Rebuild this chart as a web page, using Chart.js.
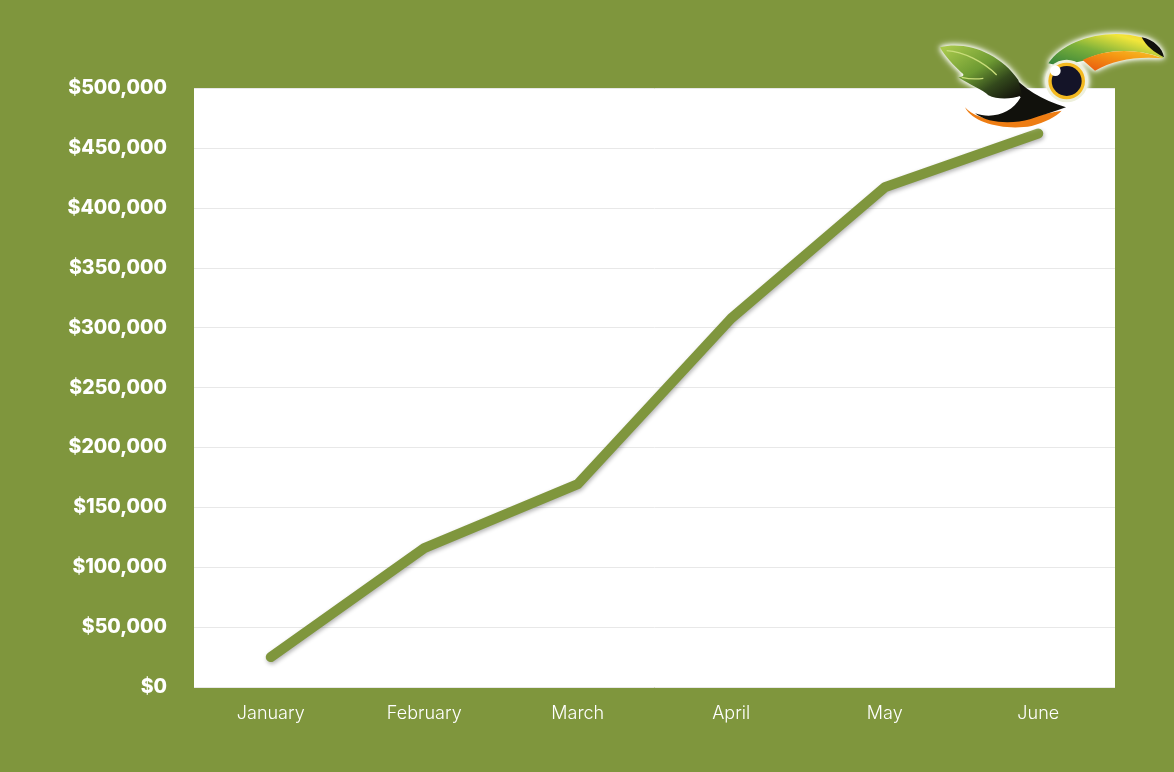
<!DOCTYPE html>
<html>
<head>
<meta charset="utf-8">
<title>Revenue by month</title>
<script src="https://cdn.jsdelivr.net/npm/chart.js@4/dist/chart.umd.min.js"></script>
<style>
  html, body { margin: 0; padding: 0; background: #7f963d; }
  #wrap { position: relative; width: 1174px; height: 772px; overflow: hidden; }
  #toucan { position: absolute; left: 920px; top: 20px; width: 254px; height: 130px; filter: drop-shadow(0 0 2px #fff) drop-shadow(0 0 3px #fff); }
</style>
</head>
<body>
<div id="wrap">
  <canvas id="chart" width="1174" height="772"></canvas>
  <!-- logo -->
  <svg id="toucan" viewBox="0 0 762 390" aria-hidden="true">
    <defs>
      <linearGradient id="leaf" x1="0.05" y1="0.05" x2="0.95" y2="0.95">
        <stop offset="0" stop-color="#a8c84c"/>
        <stop offset="0.45" stop-color="#6d9a32"/>
        <stop offset="0.72" stop-color="#33491c"/>
        <stop offset="1" stop-color="#14140c"/>
      </linearGradient>
      <linearGradient id="beak" x1="0" y1="1" x2="1" y2="0">
        <stop offset="0" stop-color="#2f7f3a"/>
        <stop offset="0.45" stop-color="#7fb23a"/>
        <stop offset="0.78" stop-color="#f2e63a"/>
        <stop offset="1" stop-color="#f4c52e"/>
      </linearGradient>
      <linearGradient id="bill" x1="0" y1="1" x2="1" y2="0">
        <stop offset="0" stop-color="#e8560f"/>
        <stop offset="0.6" stop-color="#f59a14"/>
        <stop offset="1" stop-color="#f7c52a"/>
      </linearGradient>
    </defs>
    <path d="M135,262 C160,312 260,332 335,318 C375,306 405,292 425,272 C370,282 300,300 240,300 C195,300 155,285 135,262Z" fill="#ee7d13"/>
    <path d="M270,160 C310,205 365,240 438,262 C400,276 365,285 330,298 C280,312 205,312 165,280 C215,298 275,282 302,232 C285,215 265,190 270,160Z" fill="#11110c"/>
    <path d="M60,82 C140,62 240,100 295,180 L306,226 C270,240 230,238 205,226 C190,210 150,195 115,172 C130,170 135,165 125,158 C100,135 75,110 60,82Z" fill="url(#leaf)"/>
    <path d="M80,92 C130,95 190,125 230,165" fill="none" stroke="#c9dd7a" stroke-width="4"/>
    <path d="M125,172 C150,178 170,178 190,175" fill="none" stroke="#c9dd7a" stroke-width="4"/>
    <path d="M385,130 C430,60 560,22 665,52 C700,68 725,95 730,115 C650,85 560,85 490,122 L420,138Z" fill="url(#beak)"/>
    <path d="M488,120 C570,82 660,88 728,115 C650,108 580,120 525,152Z" fill="url(#bill)"/>
    <path d="M665,52 C700,58 728,85 732,112 C700,95 680,80 665,52Z" fill="#11110c"/>
    <circle cx="440" cy="183" r="64" fill="#eef0dc"/>
    <circle cx="440" cy="183" r="55" fill="#f4b91f"/>
    <circle cx="440" cy="183" r="45" fill="#141428"/>
    <circle cx="406" cy="152" r="16" fill="#fff"/>
  </svg>
</div>
<script>
const months = ["January", "February", "March", "April", "May", "June"];
const revenue = [25000, 116000, 169500, 308000, 417500, 462500];
const tickStep = 50000;
const tickMax = 500000;

const green = "#7f963d";

// white plot box and soft shadow under the line
const plotBox = {
  id: "plotBox",
  beforeDraw(chart) {
    const { ctx, chartArea: a } = chart;
    ctx.save();
    ctx.fillStyle = "#fff";
    ctx.fillRect(a.left, a.top, a.width, a.height);
    ctx.restore();
  },
  beforeDatasetDraw(chart) {
    const { ctx } = chart;
    ctx.save();
    ctx.shadowColor = "rgba(0,0,0,0.3)";
    ctx.shadowBlur = 4;
    ctx.shadowOffsetX = 1;
    ctx.shadowOffsetY = 2;
  },
  afterDatasetDraw(chart) {
    chart.ctx.restore();
  },
};

new Chart(document.getElementById("chart"), {
  type: "line",
  plugins: [plotBox],
  data: {
    labels: months,
    datasets: [{
      data: revenue,
      borderColor: green,
      borderWidth: 10,
      borderCapStyle: "round",
      borderJoinStyle: "round",
      pointRadius: 0,
      tension: 0,
      fill: false,
    }],
  },
  options: {
    responsive: false,
    animation: false,
    layout: { padding: { top: 88.6, right: 59, left: 0, bottom: 0 } },
    plugins: { legend: { display: false }, tooltip: { enabled: false } },
    scales: {
      x: {
        offset: true,
        grid: { display: false },
        border: { display: false },
        ticks: { color: "#fff", font: { family: "Inter", size: 18, weight: "300" }, padding: 8, maxRotation: 0 },
        afterFit(s) { s.height = 85; },
      },
      y: {
        min: 0,
        max: tickMax,
        grid: { color: "#e8e8e8", lineWidth: 1, drawTicks: false },
        border: { display: false },
        ticks: {
          stepSize: tickStep,
          color: "#fff",
          font: { family: "Inter", size: 19.5, weight: "800" },
          padding: 27,
          callback: (v) => "$" + v.toLocaleString("en-US"),
        },
        afterFit(s) { s.width = 194; },
      },
    },
  },
});
</script>
</body>
</html>
